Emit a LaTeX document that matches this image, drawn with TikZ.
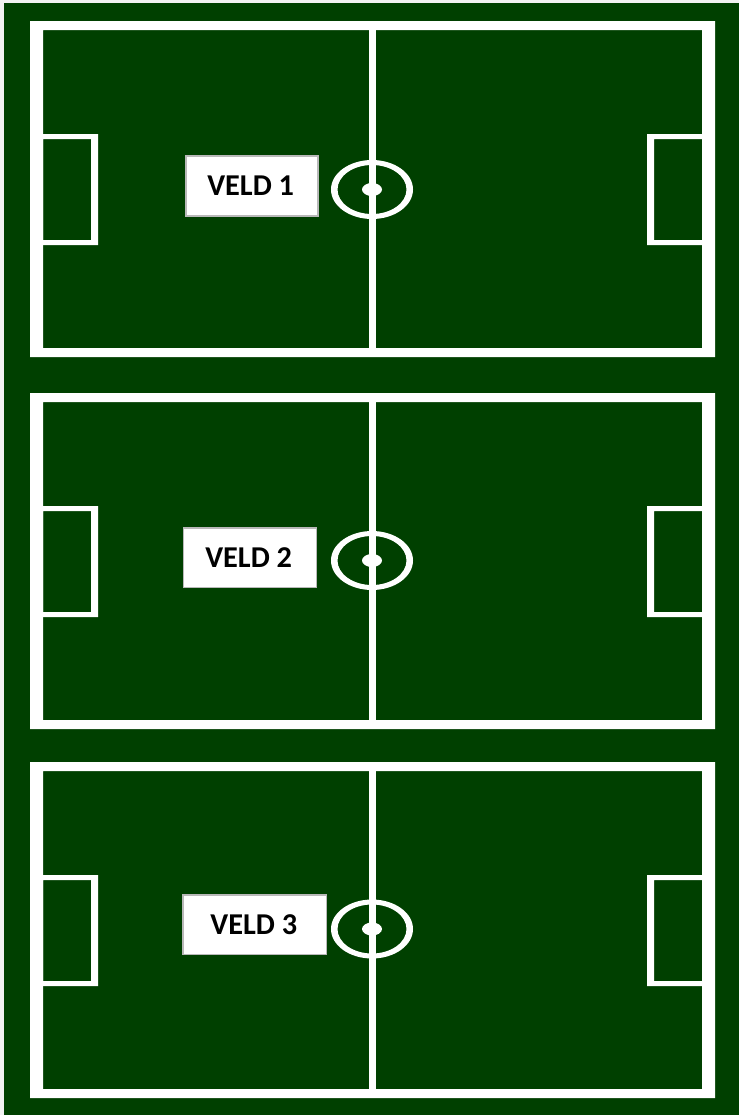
\documentclass[tikz,border=0pt]{standalone}
\usepackage{fontspec}
\setmainfont{Carlito}
\usepackage{xcolor}
\usepackage{tikz}
\usetikzlibrary{positioning}
\definecolor{grass}{RGB}{0,64,0}
\definecolor{paper}{RGB}{242,242,242}

\begin{document}
\begin{tikzpicture}[x=0.75pt, y=-0.75pt,
    line_white/.style={fill=white, even odd rule},
    veld_label/.style={rectangle, draw=gray!55, fill=white, line width=0.8pt, inner sep=0pt, font=\fontsize{22.7}{26}\selectfont\bfseries, text=black}
]
\useasboundingbox (0,0) rectangle (739,1115);

% --- Background ---
\fill[paper] (0,0) rectangle (739,1115);
\fill[grass] (4,3) rectangle (739,1115);

% --- Three pitches, measured from the first one ---
\foreach \i/\shiftpitch/\shiftmid in {1/0/0, 2/372/371, 3/741/739.5} {
\begin{scope}[shift={(0,\shiftpitch)}]
    % Outer boundary
    \fill[line_white] (30,21) rectangle (715,357) (43,30) rectangle (702,348);
    % Goal areas
    \fill[line_white] (43,134) -- (98,134) -- (98,245) -- (43,245) -- cycle (43,139) -- (91,139) -- (91,240) -- (43,240) -- cycle;
    \fill[line_white] (702,134) -- (647,134) -- (647,245) -- (702,245) -- cycle (702,139) -- (654,139) -- (654,240) -- (702,240) -- cycle;
    % Halfway line
    \fill[white] (369,30) rectangle (375.5,348);
\end{scope}
\begin{scope}[shift={(0,\shiftmid)}]
    % Centre circle and spot
    \fill[line_white] (372,189.5) ellipse [x radius=41, y radius=29.5] (372,189.5) ellipse [x radius=34.5, y radius=24.5];
    \fill[white] (372,189.5) ellipse [x radius=10, y radius=6.5];
\end{scope}
}

% Labels
\node[veld_label, minimum width=99pt, minimum height=45pt] (Veld1) at (252,186) {VELD 1\kern2pt};
\node[veld_label, minimum width=100pt, minimum height=44.3pt] (Veld2) at (250,557.5) {VELD 2\kern2pt};
\node[veld_label, minimum width=107.3pt, minimum height=44.3pt] (Veld3) at (254.5,924.5) {VELD 3\kern1pt};

\end{tikzpicture}
\end{document}
